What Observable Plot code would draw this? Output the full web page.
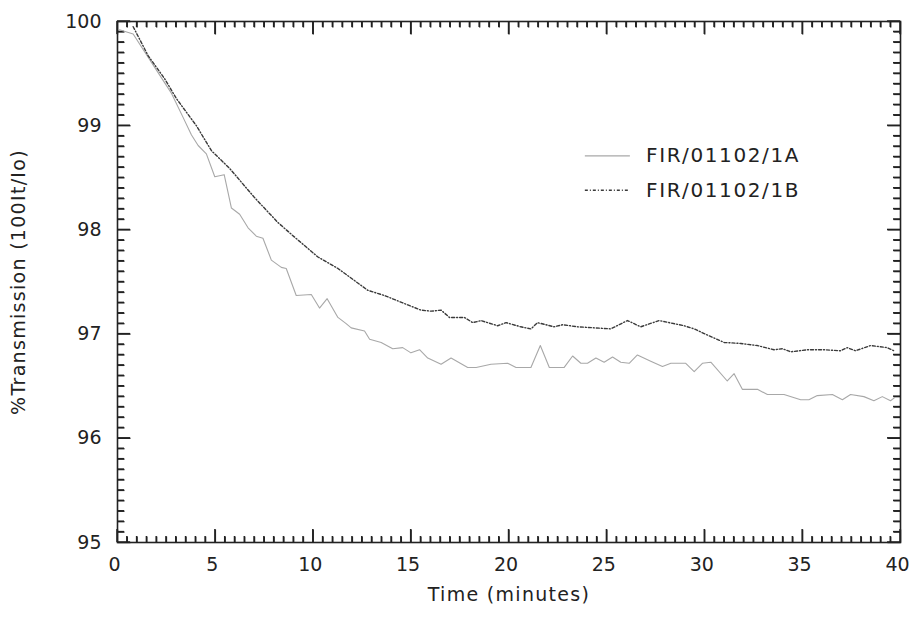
<!DOCTYPE html>
<html><head><meta charset="utf-8">
<script src="https://cdn.jsdelivr.net/npm/d3@7"></script>
<script src="https://cdn.jsdelivr.net/npm/@observablehq/plot@0.6"></script>
<style>body{margin:0;background:#fff}</style>
</head><body><div id="chart"></div>
<script>
const seriesNames = ["FIR/01102/1A", "FIR/01102/1B"];
const timeA = [0.1,0.8,1.9,2.76,3.35,3.78,4.12,4.54,4.97,5.45,5.82,6.24,6.67,7.09,7.43,7.86,8.37,8.62,9.13,9.9,10.32,10.71,11.26,11.68,11.94,12.62,12.88,13.47,14.06,14.57,14.99,15.43,15.85,16.53,17.04,17.89,18.32,19.08,19.93,20.36,21.12,21.6,22.06,22.82,23.25,23.67,24.01,24.44,24.86,25.29,25.71,26.14,26.56,27.24,27.84,28.27,29.03,29.46,29.88,30.31,31.15,31.5,31.92,32.69,33.2,34.05,34.9,35.32,35.75,36.52,37.03,37.45,38.13,38.64,39.07,39.49,39.7];
const valueA = [99.92,99.88,99.56,99.31,99.08,98.91,98.81,98.73,98.51,98.53,98.21,98.15,98.02,97.94,97.92,97.71,97.64,97.63,97.37,97.38,97.25,97.34,97.16,97.10,97.06,97.03,96.95,96.92,96.86,96.87,96.82,96.85,96.77,96.71,96.77,96.68,96.68,96.71,96.72,96.68,96.68,96.89,96.68,96.68,96.79,96.72,96.72,96.77,96.73,96.78,96.73,96.72,96.80,96.74,96.69,96.72,96.72,96.64,96.72,96.73,96.55,96.62,96.47,96.47,96.42,96.42,96.37,96.37,96.41,96.42,96.37,96.42,96.40,96.36,96.40,96.36,96.39];
const timeB = [0.8,1.57,2.41,3.01,4.03,4.8,5.73,7.0,8.2,9.05,10.24,11.26,12.79,13.64,14.83,15.5,16.02,16.53,16.96,17.72,18.15,18.57,19.42,19.85,20.6,21.12,21.46,22.3,22.74,23.5,24.35,25.2,26.05,26.73,27.67,28.95,29.46,30.14,30.99,31.84,32.69,33.54,33.96,34.39,35.24,36.09,36.94,37.28,37.7,38.47,39.32,39.66];
const valueB = [99.95,99.67,99.45,99.26,99.0,98.76,98.59,98.31,98.07,97.93,97.74,97.63,97.42,97.37,97.28,97.23,97.22,97.23,97.16,97.16,97.11,97.13,97.08,97.11,97.07,97.05,97.11,97.07,97.09,97.07,97.06,97.05,97.13,97.07,97.13,97.08,97.05,96.99,96.92,96.91,96.89,96.85,96.86,96.83,96.85,96.85,96.84,96.87,96.84,96.89,96.87,96.84];
const xMajorTicks = [0,5,10,15,20,25,30,35,40];
const yMajorTicks = [95,96,97,98,99,100];
const xMinorTicks = d3.range(0, 40.01, 0.5).map(v => +v.toFixed(1)).filter(v => v % 5 !== 0);
const yMinorTicks = d3.range(95, 100.001, 0.1).map(v => +v.toFixed(1)).filter(v => Math.abs(v - Math.round(v)) > 1e-6);
const xTitle = "Time (minutes)";
const yTitle = "%Transmission (100It/Io)";

const dataA = timeA.map((t, i) => ({t, v: valueA[i]}));
const dataB = timeB.map((t, i) => ({t, v: valueB[i]}));

const W = 910, H = 629, mL = 117, mR = 10, mT = 21, mB = 87;
const pw = W - mL - mR, ph = H - mT - mB;
const xDom = [0, 40], yDom = [95, 100];
const xPer = (xDom[1] - xDom[0]) / pw, yPer = (yDom[1] - yDom[0]) / ph;
const yMajLen = 13 * xPer, yMinLen = 7 * xPer;   // horizontal ticks (left/right)
const xMajLen = 13 * yPer, xMinLen = 6 * yPer;   // vertical ticks (bottom/top)
const halfW = 0.7; // half tick thickness in px

// tick segment table built from the tick arrays (data coordinates)
const tickSegs = [];
for (const v of yMajorTicks) {
  tickSegs.push({x1: xDom[0], x2: xDom[0] + yMajLen, y1: v, y2: v});
  tickSegs.push({x1: xDom[1] - yMajLen, x2: xDom[1], y1: v, y2: v});
}
for (const v of yMinorTicks) {
  tickSegs.push({x1: xDom[0], x2: xDom[0] + yMinLen, y1: v, y2: v});
  tickSegs.push({x1: xDom[1] - yMinLen, x2: xDom[1], y1: v, y2: v});
}
for (const t of xMajorTicks) {
  tickSegs.push({x1: t, x2: t, y1: yDom[0], y2: yDom[0] + xMajLen});
  tickSegs.push({x1: t, x2: t, y1: yDom[1] - xMajLen, y2: yDom[1]});
}
for (const t of xMinorTicks) {
  tickSegs.push({x1: t, x2: t, y1: yDom[0], y2: yDom[0] + xMinLen});
  tickSegs.push({x1: t, x2: t, y1: yDom[1] - xMinLen, y2: yDom[1]});
}
// filled thin rectangles for the same ticks
const tickRects = tickSegs.map(s => s.y1 === s.y2
  ? {x1: s.x1, x2: s.x2, y1: s.y1 - halfW * yPer, y2: s.y1 + halfW * yPer}
  : {x1: s.x1 - halfW * xPer, x2: s.x1 + halfW * xPer, y1: s.y1, y2: s.y2});

const font = "DejaVu Sans, sans-serif";
const ink = "#222";
const colA = "#a8a8a8", colB = "#3a3a3a";
const dashB = "3,2,1,2";

const legX1 = 23.9, legX2 = 26.2, legTx = 27.0;
const legYA = 98.71, legYB = 98.38;

const chart = Plot.plot({
  width: W, height: H,
  marginLeft: mL, marginRight: mR, marginTop: mT, marginBottom: mB,
  x: {domain: xDom, label: null},
  y: {domain: yDom, label: null},
  style: {fontFamily: font, color: ink, background: "#fff"},
  marks: [
    Plot.frame({stroke: ink, fill: "none", strokeWidth: 1.6}),
    Plot.axisX(xMajorTicks, {tickSize: 0, tickPadding: 15, fontSize: 19, dx: -3, label: null, tickFormat: d => d}),
    Plot.axisY(yMajorTicks, {tickSize: 0, tickPadding: 16, fontSize: 19, label: null, tickFormat: d => d}),
    Plot.rect(tickRects, {x1: "x1", x2: "x2", y1: "y1", y2: "y2", fill: ink}),
    Plot.link(tickSegs, {x1: "x1", x2: "x2", y1: "y1", y2: "y2", stroke: ink, strokeWidth: 1.4}),
    Plot.line(dataA, {x: "t", y: "v", stroke: colA, strokeWidth: 1.1}),
    Plot.line(dataB, {x: "t", y: "v", stroke: colB, strokeWidth: 1.4, strokeDasharray: dashB}),
    Plot.ruleY([legYA], {x1: legX1, x2: legX2, stroke: colA, strokeWidth: 1.1}),
    Plot.ruleY([legYB], {x1: legX1, x2: legX2, stroke: colB, strokeWidth: 1.4, strokeDasharray: dashB}),
    Plot.text([seriesNames[0]], {x: legTx, y: legYA, text: d => d, textAnchor: "start", fontSize: 20, fill: ink}),
    Plot.text([seriesNames[1]], {x: legTx, y: legYB, text: d => d, textAnchor: "start", fontSize: 20, fill: ink}),
    Plot.text([xTitle], {frameAnchor: "bottom", dy: 58, text: d => d, fontSize: 19, fill: ink}),
    Plot.text([yTitle], {frameAnchor: "left", textAnchor: "middle", dx: -99, rotate: -90, text: d => d, fontSize: 19, fill: ink})
  ]
});
d3.select(chart).selectAll("text").each(function() {
  const s = this.textContent;
  if (s === xTitle || s === yTitle) this.setAttribute("letter-spacing", "1.3");
  if (seriesNames.includes(s)) this.setAttribute("letter-spacing", "1.6");
});
document.getElementById("chart").appendChild(chart);
</script>
</body></html>
